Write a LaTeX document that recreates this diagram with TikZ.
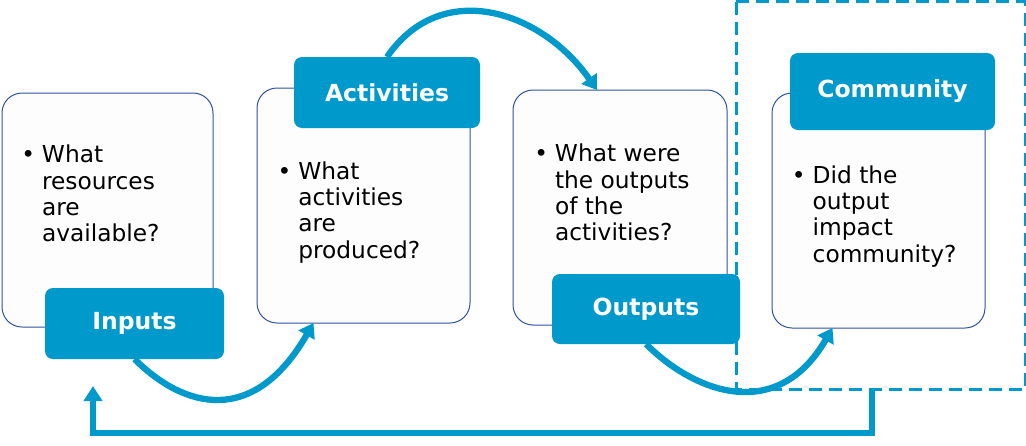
\documentclass[tikz,border=0pt]{standalone}
\usepackage{fontspec}
\setmainfont{DejaVu Sans}
\usetikzlibrary{arrows.meta}
\definecolor{mainblue}{RGB}{0,153,204}
\definecolor{edgeblue}{RGB}{47,82,160}
\definecolor{boxfill}{RGB}{253,253,253}
\begin{document}
\begin{tikzpicture}[x=1pt,y=-1pt,
  card/.style={draw=edgeblue, line width=1pt, fill=boxfill, rounded corners=20pt,
    inner sep=0pt, outer sep=0pt},
  headbox/.style={fill=mainblue, rounded corners=8pt, text=white, inner sep=0pt, outer sep=0pt,
    font=\fontsize{23.5}{28}\selectfont\bfseries},
  question/.style={anchor=base west, align=left, inner sep=0pt, outer sep=0pt,
    font=\fontsize{23.3}{26.3}\selectfont},
  flow/.style={draw=mainblue, line width=6.3pt, -{Triangle[width=18pt,length=14pt]}},
  boundary/.style={draw=mainblue, line width=3pt, dash pattern=on 13pt off 7pt}
]
\useasboundingbox (0,0) rectangle (1026,445);

% dashed boundary round the community stage
\draw[boundary] (736,1.5) rectangle (1025,389);

% white cards
\node[card, minimum width=211pt, minimum height=234pt] (b1) at (107.5,210) {};
\node[card, minimum width=213pt, minimum height=235pt] (b2) at (363.5,205.5) {};
\node[card, minimum width=214pt, minimum height=235pt] (b3) at (620,207.5) {};
\node[card, minimum width=213pt, minimum height=235pt] (b4) at (878.5,210.5) {};

% questions (base anchor = baseline of the last line)
\newcommand{\bul}{\llap{\textbullet\hspace{7pt}}}
\node[question] (t1) at (42,241.6) {\bul What\\resources\\are\\available?};
\node[question] (t2) at (298.3,258.2) {\bul What\\activities\\are\\produced?};
\node[question] (t3) at (555,240.6) {\bul What were\\the outputs\\of the\\activities?};
\node[question] (t4) at (812.7,262.2) {\bul Did the\\output\\impact\\community?};

% coloured headings
\node[headbox, minimum width=179pt, minimum height=71pt] (l1) at (134.5,323.5) {Inputs};
\node[headbox, minimum width=186pt, minimum height=71pt] (l2) at (387,92.5) {Activities};
\node[headbox, minimum width=188pt, minimum height=70pt] (l3) at (646,309) {Outputs};
\node[headbox, minimum width=205pt, minimum height=77pt] (l4) at (892.5,91.5) {Community};

% flow arrows
\draw[flow] (l1.south) .. controls +(49.5,49.5) and +(-60,104) .. ([xshift=-50pt]b2.south);
\draw[flow] (l2.north) .. controls +(54,-79) and +(-56,-80) .. ([xshift=-23pt]b3.north);
\draw[flow] (l3.south) .. controls +(49.5,49.5) and +(-55,95) .. ([xshift=-46pt]b4.south);

% feedback loop
\coordinate (fbs) at (872,388);
\coordinate (fbc) at (872,433);
\coordinate (fbe) at (93,386);
\draw[flow, line width=5.5pt, -{Triangle[width=18pt,length=15pt]}] (fbs) -- (fbc) -| (fbe);
\end{tikzpicture}
\end{document}
